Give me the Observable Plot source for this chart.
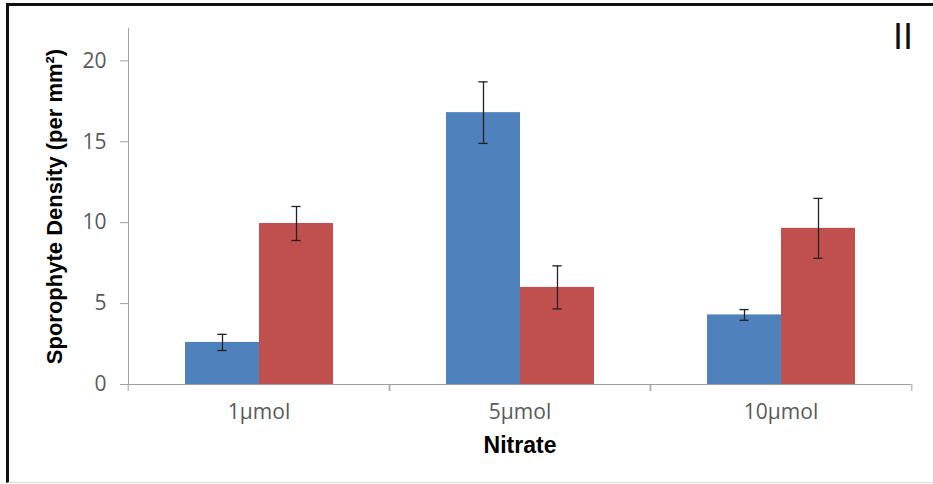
<!DOCTYPE html>
<html><head><meta charset="utf-8">
<script src="https://cdn.jsdelivr.net/npm/d3@7"></script>
<script src="https://cdn.jsdelivr.net/npm/@observablehq/plot@0.6"></script>
<style>
body{margin:0;background:#fff;}
#wrap{position:relative;width:933px;height:484px;overflow:hidden;background:#fff;}
#frame{position:absolute;left:6px;top:3px;width:940px;height:480px;border-left:3px solid #111;border-top:3px solid #111;border-bottom:1px solid #ddd;box-sizing:border-box;pointer-events:none;}
#panel{position:absolute;left:893px;top:19px;font:36px "Liberation Sans";line-height:36px;color:#111;}
g[aria-label="y-axis label"]{font-family:"Liberation Sans";font-weight:bold;font-size:22px;fill:#000;}
g[aria-label="fx-axis label"]{font-family:"Liberation Sans";font-weight:bold;font-size:23px;fill:#000;}
</style>
</head><body>
<div id="wrap"><div id="chart"></div><div id="frame"></div><div id="panel">II</div></div>
<script>
const categories = ["1μmol", "5μmol", "10μmol"];
const seriesNames = ["Series 1", "Series 2"];
const series1Values = [2.6, 16.8, 4.3];
const series1Errors = [0.5, 1.9, 0.33];
const series2Values = [9.95, 6.0, 9.65];
const series2Errors = [1.05, 1.33, 1.85];
const yTicks = [0, 5, 10, 15, 20];
const colors = ["#4F81BD", "#C0504D"];

const rows = [];
categories.forEach((c, i) => {
  rows.push({cat: c, series: seriesNames[0], value: series1Values[i], err: series1Errors[i]});
  rows.push({cat: c, series: seriesNames[1], value: series2Values[i], err: series2Errors[i]});
});

const W = 933, H = 484, mL = 127, mR = 21, mT = 28, mB = 100;
const facetW = (W - mL - mR) / categories.length;
const po = 0.75;
const barW = facetW / (seriesNames.length + 2 * po);
const capW = 10;
const capInset = (barW - capW) / 2;
const axisColor = "#a0a0a0";
const errColor = "#222";

const chart = Plot.plot({
  width: W, height: H,
  marginLeft: mL, marginRight: mR, marginTop: mT, marginBottom: mB,
  style: {fontFamily: "'Open Sans'", fontSize: "21px", color: "#595959", background: "white", overflow: "visible"},
  fx: {domain: categories, padding: 0, label: null},
  x: {domain: seriesNames, paddingInner: 0, paddingOuter: po, axis: null},
  y: {domain: [0, 22], label: null},
  color: {domain: seriesNames, range: colors},
  marks: [
    Plot.frame({anchor: "left", facetAnchor: "left", stroke: axisColor}),
    Plot.barY(rows, {fx: "cat", x: "series", y: "value", fill: "series"}),
    Plot.ruleY([0], {stroke: axisColor}),
    Plot.ruleX(rows, {fx: "cat", x: "series", y1: d => d.value - d.err, y2: d => d.value + d.err, stroke: errColor, strokeWidth: 1.3}),
    Plot.tickY(rows, {fx: "cat", x: "series", y: d => d.value + d.err, insetLeft: capInset, insetRight: capInset, stroke: errColor, strokeWidth: 1.3}),
    Plot.tickY(rows, {fx: "cat", x: "series", y: d => d.value - d.err, insetLeft: capInset, insetRight: capInset, stroke: errColor, strokeWidth: 1.3}),
    Plot.axisY({ticks: yTicks, tickSize: 8, tickPadding: 14, stroke: axisColor, label: "Sporophyte Density (per mm²)", labelArrow: "none", labelAnchor: "center", labelOffset: 82}),
    Plot.axisFx({anchor: "bottom", tickSize: 0, tickPadding: 20, label: "Nitrate", labelArrow: "none", labelAnchor: "center", labelOffset: 68}),
    Plot.axisFx({anchor: "bottom", tickSize: 7, tickFormat: () => "", dx: facetW / 2, stroke: axisColor, label: null}),
    Plot.axisFx({anchor: "bottom", tickSize: 7, tickFormat: () => "", dx: -facetW / 2, stroke: axisColor, label: null})
  ]
});
document.getElementById("chart").appendChild(chart);
</script>
</body></html>
